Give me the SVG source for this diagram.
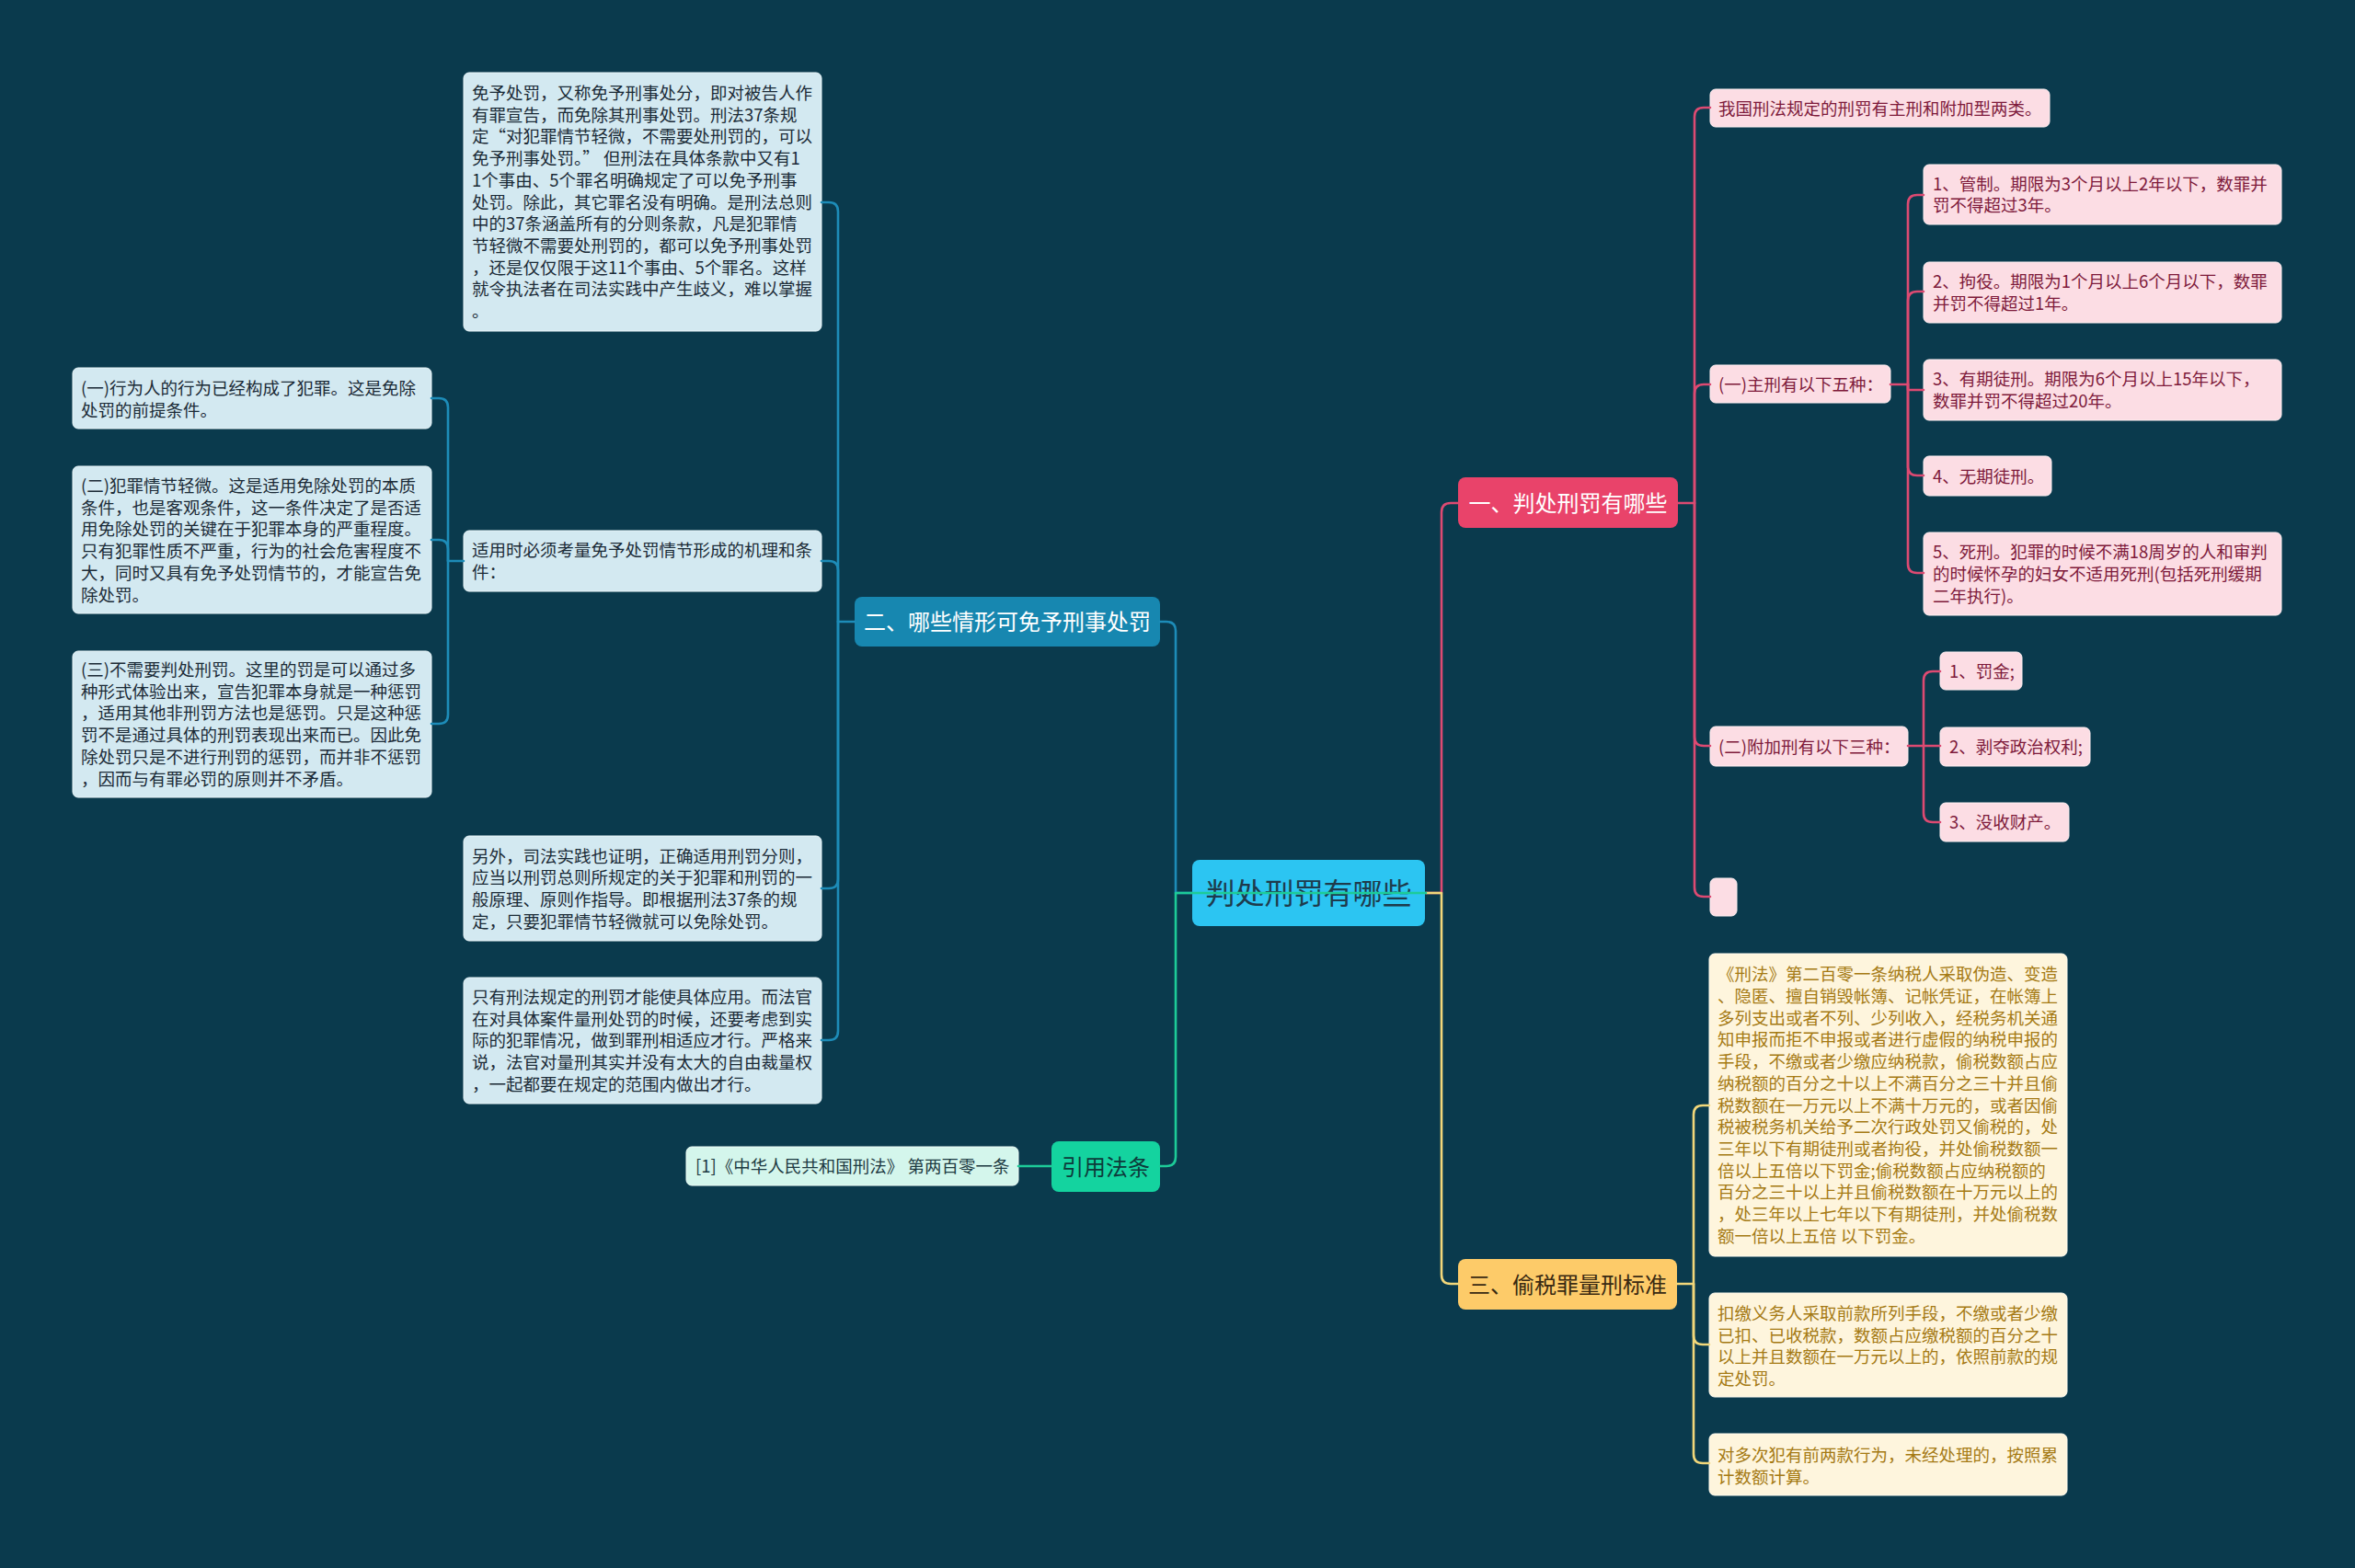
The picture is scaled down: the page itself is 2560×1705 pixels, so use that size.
<svg xmlns="http://www.w3.org/2000/svg" width="2560" height="1705" viewBox="0 0 2560 1705">
<style>
text{font-family:"Noto Sans CJK SC","Noto Sans",sans-serif;}
.leaf{font-size:18.5px;}
.br{font-size:24px;text-anchor:middle;}
.bl rect{fill:#D3E9F1;stroke:#E9F5F9;stroke-width:1;}
.bl text{fill:#1B2B37;}
.pk rect{fill:#FCDDE4;stroke:#FFF0F3;stroke-width:1;}
.pk text{fill:#7E1A3B;}
.yl rect{fill:#FEF5DD;stroke:#FFFBEF;stroke-width:1;}
.yl text{fill:#A57A14;}
.gn rect{fill:#D4F6EC;stroke:#EEFCF7;stroke-width:1;}
.gn text{fill:#1D3A42;}
.c{fill:none;stroke-width:2.6;stroke-linecap:round;stroke-linejoin:round;}
.cb{stroke:#1D8CB8;}
.cp{stroke:#DD4A72;}
.cy{stroke:#F2D77A;}
.cg{stroke:#1DCB98;}
</style>
<rect x="0" y="0" width="2560" height="1705" fill="#0A3A4D"/>

<g id="root">
<rect x="1296" y="935" width="253" height="72" rx="8" fill="#2CC5F2"/>
<text x="1422.5" y="983" font-size="32" text-anchor="middle" fill="#1E3B4C">判处刑罚有哪些</text>
</g>

<g id="b1">
<rect x="1585" y="519" width="239" height="55" rx="8" fill="#E9436A"/>
<text class="br" x="1704.5" y="555.5" fill="#FFFFFF">一、判处刑罚有哪些</text>
</g>
<g id="b2">
<rect x="929" y="649" width="332" height="54" rx="8" fill="#1787B0"/>
<text class="br" x="1095" y="685" fill="#FFFFFF">二、哪些情形可免予刑事处罚</text>
</g>
<g id="b3">
<rect x="1585" y="1369" width="238" height="55" rx="8" fill="#FDCB69"/>
<text class="br" x="1704" y="1405.5" fill="#3A2A12">三、偷税罪量刑标准</text>
</g>
<g id="b4">
<rect x="1143" y="1241" width="118" height="55" rx="8" fill="#14D39F"/>
<text class="br" x="1202" y="1277.5" fill="#0D3A3A">引用法条</text>
</g>

<!-- branch 1 leaves -->
<g id="p0" class="pk"><rect x="1859" y="97" width="369" height="41" rx="6"/>
<text class="leaf" x="1868" y="124.5">我国刑法规定的刑罚有主刑和附加型两类。</text></g>
<g id="p1" class="pk"><rect x="1859" y="397" width="196" height="41" rx="6"/>
<text class="leaf" x="1868" y="424.5">(一)主刑有以下五种：</text></g>
<g id="p1a" class="pk"><rect x="2091" y="179" width="389" height="65" rx="6"/>
<text class="leaf" x="2101" y="206.6">1、管制。期限为3个月以上2年以下，数罪并<tspan x="2101" dy="23.7">罚不得超过3年。</tspan></text></g>
<g id="p1b" class="pk"><rect x="2091" y="285" width="389" height="66" rx="6"/>
<text class="leaf" x="2101" y="313">2、拘役。期限为1个月以上6个月以下，数罪<tspan x="2101" dy="23.7">并罚不得超过1年。</tspan></text></g>
<g id="p1c" class="pk"><rect x="2091" y="391" width="389" height="66" rx="6"/>
<text class="leaf" x="2101" y="419">3、有期徒刑。期限为6个月以上15年以下，<tspan x="2101" dy="23.7">数罪并罚不得超过20年。</tspan></text></g>
<g id="p1d" class="pk"><rect x="2091" y="496" width="139" height="43" rx="6"/>
<text class="leaf" x="2101" y="524.5">4、无期徒刑。</text></g>
<g id="p1e" class="pk"><rect x="2091" y="579" width="389" height="90" rx="6"/>
<text class="leaf" x="2101" y="607.3">5、死刑。犯罪的时候不满18周岁的人和审判<tspan x="2101" dy="23.7">的时候怀孕的妇女不适用死刑(包括死刑缓期</tspan><tspan x="2101" dy="23.7">二年执行)。</tspan></text></g>
<g id="p2" class="pk"><rect x="1859" y="790" width="215" height="43" rx="6"/>
<text class="leaf" x="1868" y="818.5">(二)附加刑有以下三种：</text></g>
<g id="p2a" class="pk"><rect x="2109" y="709" width="89" height="41" rx="6"/>
<text class="leaf" x="2119" y="736.5">1、罚金;</text></g>
<g id="p2b" class="pk"><rect x="2109" y="791" width="163" height="42" rx="6"/>
<text class="leaf" x="2119" y="819">2、剥夺政治权利;</text></g>
<g id="p2c" class="pk"><rect x="2109" y="873" width="140" height="42" rx="6"/>
<text class="leaf" x="2119" y="901">3、没收财产。</text></g>
<g id="p3" class="pk"><rect x="1859" y="955" width="29" height="41" rx="6"/></g>

<!-- branch 2 leaves -->
<g id="s0" class="bl"><rect x="504" y="79" width="389" height="281" rx="6"/>
<text class="leaf" x="513" y="108">免予处罚，又称免予刑事处分，即对被告人作<tspan x="513" dy="23.7">有罪宣告，而免除其刑事处罚。刑法37条规</tspan><tspan x="513" dy="23.7">定“对犯罪情节轻微，不需要处刑罚的，可以</tspan><tspan x="513" dy="23.7">免予刑事处罚。” 但刑法在具体条款中又有1</tspan><tspan x="513" dy="23.7">1个事由、5个罪名明确规定了可以免予刑事</tspan><tspan x="513" dy="23.7">处罚。除此，其它罪名没有明确。是刑法总则</tspan><tspan x="513" dy="23.7">中的37条涵盖所有的分则条款，凡是犯罪情</tspan><tspan x="513" dy="23.7">节轻微不需要处刑罚的，都可以免予刑事处罚</tspan><tspan x="513" dy="23.7">，还是仅仅限于这11个事由、5个罪名。这样</tspan><tspan x="513" dy="23.7">就令执法者在司法实践中产生歧义，难以掌握</tspan><tspan x="513" dy="23.7">。</tspan></text></g>
<g id="s1" class="bl"><rect x="504" y="577" width="389" height="66" rx="6"/>
<text class="leaf" x="513" y="605">适用时必须考量免予处罚情节形成的机理和条<tspan x="513" dy="23.7">件：</tspan></text></g>
<g id="s1a" class="bl"><rect x="79" y="400" width="390" height="66" rx="6"/>
<text class="leaf" x="88" y="429">(一)行为人的行为已经构成了犯罪。这是免除<tspan x="88" dy="23.7">处罚的前提条件。</tspan></text></g>
<g id="s1b" class="bl"><rect x="79" y="507" width="390" height="160" rx="6"/>
<text class="leaf" x="88" y="535">(二)犯罪情节轻微。这是适用免除处罚的本质<tspan x="88" dy="23.7">条件，也是客观条件，这一条件决定了是否适</tspan><tspan x="88" dy="23.7">用免除处罚的关键在于犯罪本身的严重程度。</tspan><tspan x="88" dy="23.7">只有犯罪性质不严重，行为的社会危害程度不</tspan><tspan x="88" dy="23.7">大，同时又具有免予处罚情节的，才能宣告免</tspan><tspan x="88" dy="23.7">除处罚。</tspan></text></g>
<g id="s1c" class="bl"><rect x="79" y="708" width="390" height="159" rx="6"/>
<text class="leaf" x="88" y="735">(三)不需要判处刑罚。这里的罚是可以通过多<tspan x="88" dy="23.7">种形式体验出来，宣告犯罪本身就是一种惩罚</tspan><tspan x="88" dy="23.7">，适用其他非刑罚方法也是惩罚。只是这种惩</tspan><tspan x="88" dy="23.7">罚不是通过具体的刑罚表现出来而已。因此免</tspan><tspan x="88" dy="23.7">除处罚只是不进行刑罚的惩罚，而并非不惩罚</tspan><tspan x="88" dy="23.7">，因而与有罪必罚的原则并不矛盾。</tspan></text></g>
<g id="s2" class="bl"><rect x="504" y="909" width="389" height="114" rx="6"/>
<text class="leaf" x="513" y="937.5">另外，司法实践也证明，正确适用刑罚分则，<tspan x="513" dy="23.7">应当以刑罚总则所规定的关于犯罪和刑罚的一</tspan><tspan x="513" dy="23.7">般原理、原则作指导。即根据刑法37条的规</tspan><tspan x="513" dy="23.7">定，只要犯罪情节轻微就可以免除处罚。</tspan></text></g>
<g id="s3" class="bl"><rect x="504" y="1063" width="389" height="137" rx="6"/>
<text class="leaf" x="513" y="1091">只有刑法规定的刑罚才能使具体应用。而法官<tspan x="513" dy="23.7">在对具体案件量刑处罚的时候，还要考虑到实</tspan><tspan x="513" dy="23.7">际的犯罪情况，做到罪刑相适应才行。严格来</tspan><tspan x="513" dy="23.7">说，法官对量刑其实并没有太大的自由裁量权</tspan><tspan x="513" dy="23.7">，一起都要在规定的范围内做出才行。</tspan></text></g>

<!-- branch 3 leaves -->
<g id="y1" class="yl"><rect x="1858" y="1037" width="389" height="329" rx="6"/>
<text class="leaf" x="1867" y="1066.3">《刑法》第二百零一条纳税人采取伪造、变造<tspan x="1867" dy="23.7">、隐匿、擅自销毁帐簿、记帐凭证，在帐簿上</tspan><tspan x="1867" dy="23.7">多列支出或者不列、少列收入，经税务机关通</tspan><tspan x="1867" dy="23.7">知申报而拒不申报或者进行虚假的纳税申报的</tspan><tspan x="1867" dy="23.7">手段，不缴或者少缴应纳税款，偷税数额占应</tspan><tspan x="1867" dy="23.7">纳税额的百分之十以上不满百分之三十并且偷</tspan><tspan x="1867" dy="23.7">税数额在一万元以上不满十万元的，或者因偷</tspan><tspan x="1867" dy="23.7">税被税务机关给予二次行政处罚又偷税的，处</tspan><tspan x="1867" dy="23.7">三年以下有期徒刑或者拘役，并处偷税数额一</tspan><tspan x="1867" dy="23.7">倍以上五倍以下罚金;偷税数额占应纳税额的</tspan><tspan x="1867" dy="23.7">百分之三十以上并且偷税数额在十万元以上的</tspan><tspan x="1867" dy="23.7">，处三年以上七年以下有期徒刑，并处偷税数</tspan><tspan x="1867" dy="23.7">额一倍以上五倍 以下罚金。</tspan></text></g>
<g id="y2" class="yl"><rect x="1858" y="1406" width="389" height="113" rx="6"/>
<text class="leaf" x="1867" y="1435">扣缴义务人采取前款所列手段，不缴或者少缴<tspan x="1867" dy="23.7">已扣、已收税款，数额占应缴税额的百分之十</tspan><tspan x="1867" dy="23.7">以上并且数额在一万元以上的，依照前款的规</tspan><tspan x="1867" dy="23.7">定处罚。</tspan></text></g>
<g id="y3" class="yl"><rect x="1858" y="1559" width="389" height="67" rx="6"/>
<text class="leaf" x="1867" y="1589">对多次犯有前两款行为，未经处理的，按照累<tspan x="1867" dy="23.7">计数额计算。</tspan></text></g>

<!-- citation leaf -->
<g id="g1" class="gn"><rect x="746" y="1247" width="361" height="42" rx="6"/>
<text class="leaf" x="756" y="1275">[1]《中华人民共和国刑法》 第两百零一条</text></g>

<g id="connectors">
<path class="c cp" d="M1550,971 H1567 V557 Q1567,547 1577,547 H1585"/>
<path class="c cy" d="M1550,971 H1567 V1386 Q1567,1396 1577,1396 H1585"/>
<path class="c cb" d="M1296,971 H1278 V686 Q1278,676 1268,676 H1261"/>
<path class="c cg" d="M1550,971 H1278 V1258 Q1278,1268 1268,1268 H1261"/>
<path class="c cg" d="M1143,1268 H1107"/>

<path class="c cp" d="M1824,547 H1842 V127 Q1842,117 1852,117 H1859"/>
<path class="c cp" d="M1842,547 V428 Q1842,418 1852,418 H1859"/>
<path class="c cp" d="M1842,547 V801 Q1842,811 1852,811 H1859"/>
<path class="c cp" d="M1842,547 V965 Q1842,975 1852,975 H1859"/>

<path class="c cp" d="M2055,418 H2074 V222 Q2074,212 2084,212 H2091"/>
<path class="c cp" d="M2074,418 V327 Q2074,317 2084,317 H2091"/>
<path class="c cp" d="M2074,418 V424 H2091"/>
<path class="c cp" d="M2074,418 V507 Q2074,517 2084,517 H2091"/>
<path class="c cp" d="M2074,418 V613 Q2074,623 2084,623 H2091"/>

<path class="c cp" d="M2074,811 H2091 V740 Q2091,730 2101,730 H2109"/>
<path class="c cp" d="M2091,811 H2109"/>
<path class="c cp" d="M2091,811 V884 Q2091,894 2101,894 H2109"/>

<path class="c cy" d="M1823,1396 H1841 V1212 Q1841,1202 1851,1202 H1858"/>
<path class="c cy" d="M1841,1396 V1452 Q1841,1462 1851,1462 H1858"/>
<path class="c cy" d="M1841,1396 V1581 Q1841,1591 1851,1591 H1858"/>

<path class="c cb" d="M929,676 H911 V230 Q911,220 901,220 H893"/>
<path class="c cb" d="M911,676 V620 Q911,610 901,610 H893"/>
<path class="c cb" d="M911,676 V956 Q911,966 901,966 H893"/>
<path class="c cb" d="M911,676 V1121 Q911,1131 901,1131 H893"/>

<path class="c cb" d="M504,610 H487 V443 Q487,433 477,433 H469"/>
<path class="c cb" d="M487,610 V597 Q487,587 477,587 H469"/>
<path class="c cb" d="M487,610 V777 Q487,787 477,787 H469"/>
</g>
</svg>
